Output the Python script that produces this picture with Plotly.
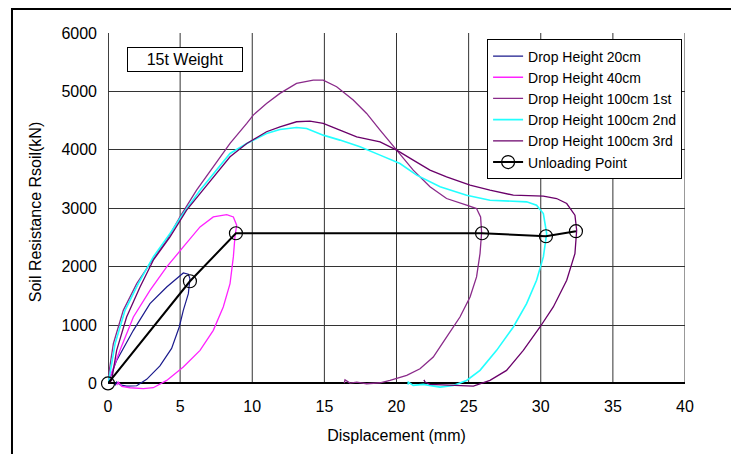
import plotly.graph_objects as go

# ---------------- data ----------------
x_20cm = [0, 0.6, 1.76, 2.91, 4.07, 4.99, 5.22, 5.57, 5.68, 5.57, 5.22, 4.94, 4.41, 3.6, 2.68, 1.99, 1.29, 0.83, 0.6, 0.49]
y_20cm = [0, 394, 909, 1366, 1651, 1851, 1891, 1869, 1794, 1537, 1251, 966, 600, 300, 70, -40, -46, -23, 23, -34]

x_40cm = [0, 0.14, 0.83, 1.76, 2.91, 4.07, 5.22, 6.38, 7.3, 8.23, 8.69, 8.92, 8.8, 8.69, 8.46, 7.99, 7.3, 6.38, 5.22, 4.07, 3.14, 2.45, 1.53, 0.95, 0.72, 0.6]
y_40cm = [0, 109, 566, 1137, 1594, 1994, 2337, 2680, 2851, 2891, 2851, 2709, 2509, 2166, 1709, 1309, 909, 566, 280, 51, -74, -91, -74, -51, 23, -30]

x_100_1st = [0, 0.09, 0.37, 1.06, 1.99, 2.91, 4.07, 4.99, 6.14, 7.3, 8.46, 9.62, 10.07, 10.99, 11.92, 13.07, 14.23, 14.92,
             15.85, 17.0, 17.93, 18.86, 20.0, 21.16, 22.32, 23.47, 24.86, 25.55, 25.83, 25.9, 25.79, 25.55, 25.1, 24.4,
             23.47, 22.55, 21.63, 20.71, 19.55, 18.86, 17.93, 17.24, 16.78, 16.43, 16.38]
y_100_1st = [0, 223, 680, 1251, 1709, 2051, 2451, 2851, 3309, 3709, 4109, 4451, 4594, 4794, 4966, 5137, 5194, 5194,
             5080, 4851, 4623, 4337, 3994, 3651, 3366, 3166, 3051, 2994, 2851, 2583, 2223, 1823, 1480, 1137,
             794, 451, 251, 137, 51, 11, -6, 23, 6, 60, 6]

x_100_2nd = [0, 0.14, 0.49, 1.18, 2.1, 3.14, 4.3, 5.22, 6.38, 7.3, 8.46, 9.62, 10.99, 11.92, 13.07, 13.77, 14.92, 16.08,
             17.47, 18.86, 20.24, 21.4, 23.02, 24.86, 26.48, 29.02, 29.71, 30.18, 30.41, 30.18, 29.71, 29.02, 28.1,
             26.94, 25.79, 24.86, 23.94, 23.02, 21.86, 21.16, 20.82, 20.8]
y_100_2nd = [0, 171, 680, 1251, 1709, 2166, 2566, 2909, 3309, 3594, 3937, 4109, 4280, 4349, 4383, 4366, 4251, 4166,
             4051, 3909, 3766, 3566, 3366, 3223, 3137, 3109, 3051, 2909, 2566, 2166, 1766, 1366, 966,
             566, 223, 51, -34, -63, -17, -34, 23, -20]

x_100_3rd = [0, 0.25, 0.6, 1.29, 2.22, 3.14, 4.3, 5.45, 6.38, 7.3, 8.46, 9.62, 10.99, 11.92, 13.07, 14.0, 14.92, 16.08,
             17.24, 18.86, 20.01, 21.16, 22.32, 23.47, 25.1, 26.48, 28.1, 30.18, 31.1, 31.8, 32.37, 32.49, 32.37,
             31.8, 30.87, 29.95, 28.79, 27.63, 26.48, 25.33, 24.17, 23.02, 22.32, 21.98, 21.9]
y_100_3rd = [0, 51, 566, 1137, 1651, 2109, 2509, 2966, 3250, 3537, 3880, 4109, 4309, 4394, 4480, 4491, 4451, 4337,
             4223, 4137, 3994, 3823, 3651, 3537, 3394, 3309, 3223, 3206, 3166, 3080, 2880, 2623, 2223,
             1766, 1309, 966, 566, 223, 51, -46, -34, -34, -17, 23, 60]

x_unload = [0, 5.68, 8.87, 25.93, 30.36, 32.44]
y_unload = [0, 1749, 2571, 2571, 2520, 2606]

x_ticks = [0, 5, 10, 15, 20, 25, 30, 35, 40]
y_ticks = [0, 1000, 2000, 3000, 4000, 5000, 6000]

series = [
    ("Drop Height 20cm", x_20cm, y_20cm, "#1a1a8c", 1.2),
    ("Drop Height 40cm", x_40cm, y_40cm, "#ff22ff", 1.3),
    ("Drop Height 100cm 1st", x_100_1st, y_100_1st, "#8a2a8a", 1.3),
    ("Drop Height 100cm 2nd", x_100_2nd, y_100_2nd, "#22ffff", 1.6),
    ("Drop Height 100cm 3rd", x_100_3rd, y_100_3rd, "#6a006a", 1.3),
]

FONT = "Liberation Sans, Arial, Noto Sans CJK JP, sans-serif"

fig = go.Figure()
for name, xs, ys, color, w in series:
    fig.add_trace(go.Scatter(x=xs, y=ys, mode="lines", name=name,
                             line=dict(color=color, width=w)))
fig.add_trace(go.Scatter(x=x_unload, y=y_unload, mode="lines+markers", name="Unloading Point",
                         line=dict(color="black", width=2),
                         marker=dict(symbol="circle-open", size=13, color="black", line=dict(width=1.2)),
                         cliponaxis=False))

shapes = []
# vertical gridlines (from 0 up to 6000 only) and the y axis line
for xv in x_ticks:
    shapes.append(dict(type="line", xref="x", yref="y", x0=xv, x1=xv, y0=0, y1=y_ticks[-1],
                       line=dict(color="#333333" if xv else "black", width=1 if xv else 1.5), layer="below"))
# outer frame
shapes.append(dict(type="rect", xref="paper", yref="paper", x0=-0.1664, x1=1.0884, y0=-0.25, y1=1.067,
                   line=dict(color="black", width=2)))

# the page body adds an 8px offset, so the figure is 8px smaller than the window
fig.update_layout(
    width=731, height=446,
    margin=dict(l=100, r=54, t=25, b=63, autoexpand=False),
    paper_bgcolor="white", plot_bgcolor="white",
    font=dict(family=FONT, color="black", size=15),
    showlegend=True,
    legend=dict(x=0.657, y=0.982, xanchor="left", yanchor="top",
                bgcolor="white", bordercolor="black", borderwidth=1,
                font=dict(family=FONT, size=14), tracegroupgap=0),
    shapes=shapes,
    annotations=[dict(text="15t Weight", xref="paper", yref="paper", x=0.1326, y=0.927,
                      xanchor="center", yanchor="middle",
                      showarrow=False, font=dict(family=FONT, size=16),
                      bordercolor="black", borderwidth=1, bgcolor="white",
                      width=112, height=21)],
)
fig.update_xaxes(range=[0, 40], tickvals=x_ticks, showgrid=False, zeroline=False, showline=False,
                 ticks="", tickfont=dict(size=16), ticklabelstandoff=4, automargin=False,
                 title=dict(text="Displacement (mm)", font=dict(size=16)))
fig.update_yaxes(range=[-130, 6000], tickvals=y_ticks, showgrid=True, gridcolor="#333333", gridwidth=1,
                 zeroline=True, zerolinecolor="black", zerolinewidth=1.5, showline=False,
                 ticks="", tickfont=dict(size=16), ticklabelstandoff=10, automargin=False,
                 title=dict(text="Soil Resistance Rsoil(kN)", font=dict(size=16)))

fig.write_html("out.html")
